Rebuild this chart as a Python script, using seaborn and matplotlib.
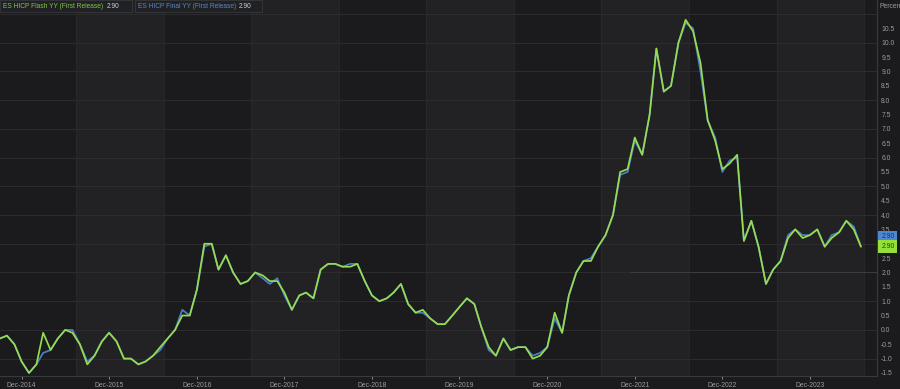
import matplotlib
matplotlib.use("Agg")
import matplotlib.pyplot as plt
import matplotlib.dates as mdates
from matplotlib.patches import Rectangle
import numpy as np
import pandas as pd
import seaborn as sns

# ---------------- data ----------------
start_month = "2014-09-01"
flash_yy = [
    -0.3, -0.2, -0.5, -1.1,
    -1.5, -1.2, -0.1, -0.7, -0.3, 0.0, -0.1, -0.5, -1.2, -0.9, -0.4, -0.1,
    -0.4, -1.0, -1.0, -1.2, -1.1, -0.9, -0.6, -0.3, 0.0, 0.5, 0.5, 1.4,
    3.0, 3.0, 2.1, 2.6, 2.0, 1.6, 1.7, 2.0, 1.9, 1.7, 1.7, 1.3,
    0.7, 1.2, 1.3, 1.1, 2.1, 2.3, 2.3, 2.2, 2.2, 2.3, 1.7, 1.2,
    1.0, 1.1, 1.3, 1.6, 0.9, 0.6, 0.7, 0.4, 0.2, 0.2, 0.5, 0.8,
    1.1, 0.9, 0.1, -0.6, -0.9, -0.3, -0.7, -0.6, -0.6, -1.0, -0.9, -0.6,
    0.6, -0.1, 1.2, 2.0, 2.4, 2.4, 2.9, 3.3, 4.0, 5.5, 5.6, 6.7,
    6.1, 7.5, 9.8, 8.3, 8.5, 10.0, 10.8, 10.4, 9.3, 7.3, 6.6, 5.6,
    5.8, 6.1, 3.1, 3.8, 2.9, 1.6, 2.1, 2.4, 3.2, 3.5, 3.2, 3.3,
    3.5, 2.9, 3.2, 3.4, 3.8, 3.5, 2.9,
]
final_yy = [
    -0.3, -0.2, -0.5, -1.1,
    -1.5, -1.2, -0.8, -0.7, -0.3, 0.0, 0.0, -0.5, -1.1, -0.9, -0.4, -0.1,
    -0.4, -1.0, -1.0, -1.2, -1.1, -0.9, -0.7, -0.3, 0.0, 0.7, 0.5, 1.4,
    2.9, 3.0, 2.1, 2.6, 2.0, 1.6, 1.7, 2.0, 1.8, 1.6, 1.8, 1.2,
    0.7, 1.2, 1.3, 1.1, 2.1, 2.3, 2.3, 2.2, 2.3, 2.3, 1.7, 1.2,
    1.0, 1.1, 1.3, 1.6, 0.9, 0.6, 0.6, 0.4, 0.2, 0.2, 0.5, 0.8,
    1.1, 0.9, 0.1, -0.7, -0.9, -0.3, -0.7, -0.6, -0.6, -0.9, -0.8, -0.6,
    0.4, -0.1, 1.2, 2.0, 2.4, 2.5, 2.9, 3.3, 4.0, 5.4, 5.5, 6.6,
    6.1, 7.5, 9.8, 8.3, 8.5, 10.0, 10.7, 10.5, 9.0, 7.3, 6.7, 5.5,
    5.9, 6.0, 3.1, 3.8, 2.9, 1.6, 2.1, 2.4, 3.3, 3.5, 3.3, 3.3,
    3.5, 2.9, 3.3, 3.4, 3.8, 3.6, 2.9,
]
series_names = ["ES HICP Final YY (First Release)", "ES HICP Flash YY (First Release)"]
tick_years = list(range(2014, 2024))
y_ticks = [-1.5, -1.0, -0.5, 0.0, 0.5, 1.0, 1.5, 2.0, 2.5, 3.0, 3.5, 4.0, 4.5, 5.0,
           5.5, 6.0, 6.5, 7.0, 7.5, 8.0, 8.5, 9.0, 9.5, 10.0, 10.5]
y_label = "Percent"

# ---------------- style ----------------
BG = "#1b1b1d"
BAND = "#222224"
GRID = "#2d2d30"
TXT = "#9c9c9c"
GREEN = "#96dc4e"
BLUE = "#4b7fc6"

sns.set_theme(style="dark")
plt.rcParams["font.family"] = ["Liberation Sans", "DejaVu Sans"]

dates = pd.date_range(start_month, periods=len(flash_yy), freq="MS")
df = pd.DataFrame({
    "date": np.concatenate([dates, dates]),
    "value": final_yy + flash_yy,
    "series": [series_names[0]] * len(final_yy) + [series_names[1]] * len(flash_yy),
})

W, H = 900, 389
fig = plt.figure(figsize=(W / 100, H / 100), dpi=100, facecolor=BG)
ax = fig.add_axes([0, (H - 376) / H, 877 / W, 376 / H])
ax.set_facecolor(BG)

# alternating year bands
for yr in range(2013, 2025):
    s = pd.Timestamp(f"{yr}-07-15")
    e = pd.Timestamp(f"{yr + 1}-07-15")
    if yr % 2 == 1:
        ax.axvspan(s, e, color=BAND, lw=0, zorder=0)
    ax.axvline(s, color="#2a2a2d", lw=0.6, zorder=0.5)

# horizontal gridlines at integers
for v in range(-1, 12):
    ax.axhline(v, color=GRID, lw=0.7, zorder=0.6)
ax.hlines(2.0, pd.Timestamp("2021-11-10"), pd.Timestamp("2024-09-30"),
          color="#3c3c3f", lw=0.8, zorder=0.7)

sns.lineplot(data=df, x="date", y="value", hue="series", hue_order=series_names,
             palette=[BLUE, GREEN], linewidth=1.25, legend=False, ax=ax, zorder=3)

ax.set_xlim(pd.Timestamp("2014-09-02"), pd.Timestamp("2024-09-06"))
ax.set_ylim(-1.605, 11.49)
ax.set_xlabel("")
ax.set_ylabel("")
ax.grid(False)

ax.set_xticks([pd.Timestamp(f"{y}-12-01") for y in tick_years])
ax.xaxis.set_major_formatter(mdates.DateFormatter("%b-%Y"))
ax.tick_params(axis="x", colors=TXT, labelsize=4.9, length=2.5, width=0.6, pad=1.5,
               direction="out", bottom=True)
ax.yaxis.tick_right()
ax.set_yticks(y_ticks)
# the 3.0 label is hidden behind the value tags in the original
ax.set_yticklabels(["" if v == 3.0 else f"{v:.1f}" for v in y_ticks])
ax.tick_params(axis="y", colors=TXT, labelsize=4.9, length=0, pad=3)
for lab in ax.get_xticklabels() + ax.get_yticklabels():
    lab.set_color(TXT)

for sp in ["top", "left"]:
    ax.spines[sp].set_visible(False)
for sp in ["bottom", "right"]:
    ax.spines[sp].set_visible(True)
    ax.spines[sp].set_color("#3a3a3d")
    ax.spines[sp].set_linewidth(0.8)

# right-side value tags
ytr = ax.get_yaxis_transform()
ax.annotate(f"{final_yy[-1]:.2f}", xy=(1.0, final_yy[-1]), xycoords=ytr,
            xytext=(3, 7.0), textcoords="offset points", fontsize=4.9,
            color="#1b3560", va="center", ha="left", annotation_clip=False, zorder=10,
            bbox=dict(boxstyle="square,pad=0.4", fc="#4f86d3", ec="none"))
ax.annotate(f"{flash_yy[-1]:.2f}", xy=(1.0, flash_yy[-1]), xycoords=ytr,
            xytext=(3, 0), textcoords="offset points", fontsize=4.9,
            color="#25420a", va="center", ha="left", annotation_clip=False, zorder=10,
            bbox=dict(boxstyle="square,pad=0.4", fc="#93e03a", ec="none"))

fig.text(879 / W, 1 - 6 / H, y_label, fontsize=4.9, color=TXT, va="center", ha="left")

# legend boxes at top-left
def px(x, y):
    return x / W, 1 - y / H

for (x0, x1) in [(0, 132), (135, 262)]:
    fx, fy = px(x0, 12)
    fig.patches.append(Rectangle((fx, fy), (x1 - x0) / W, 12 / H, transform=fig.transFigure,
                                 fc="#1f2124", ec="#36383b", lw=0.6, zorder=5))
fig.text(*px(3, 6.5), series_names[1], fontsize=4.8, color="#82c544", va="center", ha="left", zorder=6)
fig.text(*px(107, 6.5), f"{flash_yy[-1]:.2f}", fontsize=4.8, color="#d0d0d0", va="center", ha="left", zorder=6)
fig.text(*px(138, 6.5), series_names[0], fontsize=4.8, color="#5a88c8", va="center", ha="left", zorder=6)
fig.text(*px(239, 6.5), f"{final_yy[-1]:.2f}", fontsize=4.8, color="#d0d0d0", va="center", ha="left", zorder=6)

fig.savefig("out.png", dpi=100, facecolor=BG)
